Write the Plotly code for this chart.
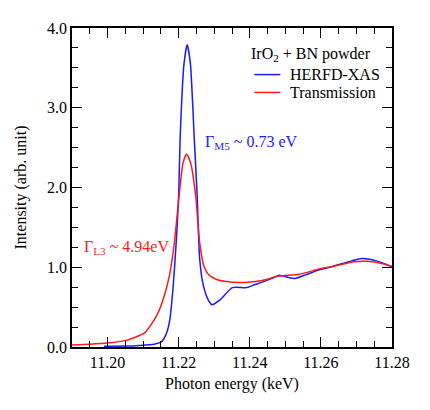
import plotly.graph_objects as go

# HERFD-XAS (blue)
herfd_x = [11.199, 11.205, 11.209, 11.2131, 11.2150, 11.2158, 11.2168, 11.2175, 11.2184,
           11.2193, 11.2200, 11.2204, 11.2215, 11.2224, 11.2233, 11.2244, 11.2252, 11.2259,
           11.2268, 11.2281, 11.2294, 11.2316, 11.2351, 11.2391, 11.2413, 11.2439, 11.2462,
           11.2483, 11.2510, 11.2527, 11.2560, 11.2598, 11.2633, 11.2686, 11.2716, 11.2756, 11.2800]
herfd_y = [0.01, 0.012, 0.02, 0.035, 0.06, 0.10, 0.20, 0.34, 0.73,
           1.31, 1.90, 2.60, 3.55, 3.79, 3.55, 2.60, 1.90, 1.11,
           0.80, 0.61, 0.53, 0.59, 0.745, 0.745, 0.78, 0.82, 0.86,
           0.90, 0.87, 0.86, 0.91, 0.97, 1.01, 1.08, 1.11, 1.08, 1.01]

# Transmission (red)
trans_x = [11.190, 11.195, 11.200, 11.205, 11.2105, 11.214, 11.216, 11.2175, 11.2188,
           11.2201, 11.2212, 11.2222, 11.2234, 11.2248, 11.2259, 11.2272, 11.2284, 11.2305,
           11.2334, 11.2386, 11.2431, 11.2483, 11.2536, 11.2598, 11.2642, 11.2694, 11.2730,
           11.2774, 11.2800]
trans_y = [0.025, 0.035, 0.05, 0.08, 0.18, 0.41, 0.65, 0.92, 1.31,
           1.89, 2.30, 2.42, 2.30, 1.89, 1.31, 1.00, 0.91, 0.85,
           0.82, 0.81, 0.83, 0.89, 0.91, 0.98, 1.02, 1.07, 1.075,
           1.045, 1.01]

x_ticks = [11.20, 11.22, 11.24, 11.26, 11.28]
x_labels = ["11.20", "11.22", "11.24", "11.26", "11.28"]
y_ticks = [0.0, 1.0, 2.0, 3.0, 4.0]
y_labels = ["0.0", "1.0", "2.0", "3.0", "4.0"]

series_names = ["HERFD-XAS", "Transmission"]
legend_title = "IrO<sub>2</sub> + BN powder"

BLUE = "#1a1aff"
RED = "#ff1a1a"
FONT = "Liberation Serif"

fig = go.Figure()
fig.add_trace(go.Scatter(x=herfd_x, y=herfd_y, mode="lines", name=series_names[0],
                         showlegend=False,
                         line=dict(color=BLUE, width=1.5, shape="spline", smoothing=0.6)))
fig.add_trace(go.Scatter(x=trans_x, y=trans_y, mode="lines", name=series_names[1],
                         showlegend=False,
                         line=dict(color=RED, width=1.5, shape="spline", smoothing=0.6)))

axis_common = dict(showline=True, linecolor="black", linewidth=1.5, mirror="allticks",
                   ticks="inside", ticklen=10, tickwidth=1, tickcolor="black",
                   showgrid=False, zeroline=False, ticklabeloverflow="allow",
                   tickfont=dict(family=FONT, size=16, color="black"))

fig.update_xaxes(range=[11.19, 11.28], tickvals=x_ticks, ticktext=x_labels,
                 minor=dict(dtick=0.005, tick0=11.19, ticks="inside", ticklen=6, tickcolor="black"),
                 title=dict(text="Photon energy (keV)", font=dict(family=FONT, size=16, color="black"),
                            standoff=8),
                 **axis_common)
fig.update_yaxes(range=[0, 4.0], tickvals=y_ticks, ticktext=y_labels,
                 minor=dict(dtick=0.25, tick0=0, ticks="inside", ticklen=6, tickcolor="black"),
                 title=dict(text="Intensity (arb. unit)", font=dict(family=FONT, size=16, color="black"),
                            standoff=16),
                 **axis_common)

# Linewidth annotations
fig.add_annotation(x=11.2268, y=2.56, xref="x", yref="y", xanchor="left", yanchor="middle",
                   text="Γ<sub>M5</sub> ~ 0.73 eV", showarrow=False,
                   font=dict(family=FONT, size=16, color=BLUE))
fig.add_annotation(x=11.1927, y=1.25, xref="x", yref="y", xanchor="left", yanchor="middle",
                   text="Γ<sub>L3</sub> ~ 4.94eV", showarrow=False,
                   font=dict(family=FONT, size=16, color=RED))

# Legend drawn in the upper right of the plot area
fig.add_annotation(x=0.553, y=0.918, xref="paper", yref="paper", xanchor="left", yanchor="middle",
                   text=legend_title, showarrow=False, font=dict(family=FONT, size=16, color="black"))
for name, color, ly in [(series_names[0], BLUE, 0.854), (series_names[1], RED, 0.798)]:
    fig.add_shape(type="line", xref="paper", yref="paper", x0=0.570, x1=0.651, y0=ly, y1=ly,
                  line=dict(color=color, width=1.5))
    fig.add_annotation(x=0.675, y=ly, xref="paper", yref="paper", xanchor="left", yanchor="middle",
                       text=name, showarrow=False, font=dict(family=FONT, size=16, color="black"))

fig.update_layout(
    width=414, height=394,
    margin=dict(l=61, r=18, t=12, b=40),
    plot_bgcolor="white", paper_bgcolor="white",
    font=dict(family=FONT, size=16, color="black"),
    showlegend=False,
)

fig.write_html("out.html")
